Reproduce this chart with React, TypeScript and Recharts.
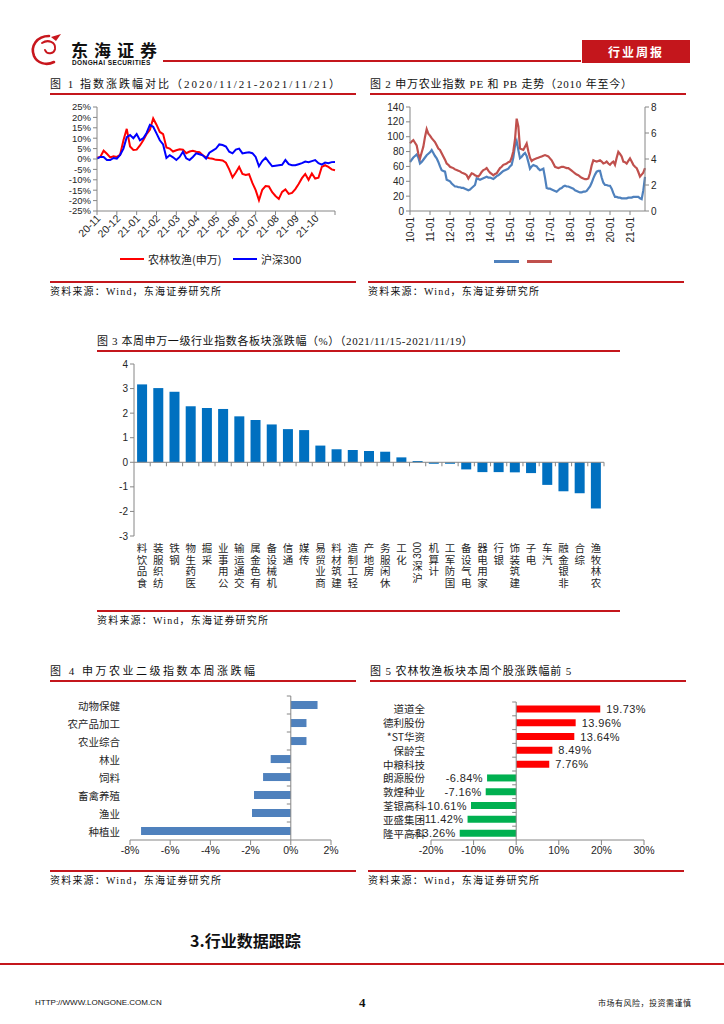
import React from 'react'
import { LineChart, Line, BarChart, Bar, XAxis, YAxis, ReferenceLine, Cell, LabelList } from 'recharts'

const CN = '"Noto Sans CJK SC", "Noto Sans", sans-serif'
const SERIF_CN = '"Liberation Serif", "Noto Sans CJK SC", serif'
const SANS = '"Liberation Sans", "Noto Sans CJK SC", sans-serif'
const RULE = '#c4161c'
const AXIS = '#868686'
const TEXT = '#262626'

// 图1 指数涨跌幅对比, one point every 1/6 month from 2020-11
const fig1Months = ['20-11', '20-12', '21-01', '21-02', '21-03', '21-04', '21-05', '21-06', '21-07', '21-08', '21-09', '21-10']
const fig1Agri = [
  0.6, 1.0, 4.0, 2.5, 0.8, 1.3, 1.0, 2.0, 9.0, 14.5,
  6.0, 4.3, 4.5, 6.5, 9.0, 12.0, 14.0, 19.5, 16.5, 13.0,
  12.0, 5.5, 5.0, 3.6, 4.2, 4.7, 4.5, 2.8, 3.6, 4.0,
  3.5, 3.3, 1.8, 0.8, 0.4, 0.1, -0.4, -0.5, -0.7, -1.8,
  -5.0, -8.8, -6.5, -3.8, -7.2, -7.7, -7.3, -11.5, -15.0, -19.8,
  -14.8, -13.0, -13.2, -16.0, -17.8, -19.2, -15.8, -14.6, -16.8, -16.3,
  -14.5, -12.0, -9.2, -7.2, -10.0, -7.0, -9.4, -9.0, -3.8, -3.0,
  -3.8, -5.0, -5.4,
]
const fig1Hs300 = [
  0.2, 1.0, 1.0, -0.5, -0.5, 0.5, 0.2, 2.0, 5.0, 10.5,
  11.5, 10.0, 12.0, 9.0, 10.0, 12.5, 16.4, 15.5, 12.3, 9.0,
  7.0, 0.5, 1.8, 0.8, -0.5, 1.0, 3.5, 0.3, -0.5, 1.0,
  2.7, 2.3, 1.8, 0.2, 3.0, 4.0, 5.0, 7.0, 6.7, 6.0,
  3.5, 2.7, 4.5, 5.0, 2.7, 3.0, 3.2, 2.8, 1.0, -3.5,
  -1.0, 0.6, -1.5, -3.5, -3.2, -3.0, -2.8, -0.5, -2.5, -3.0,
  -3.0, -2.5, -2.0, -1.2, -1.5, -1.0, -0.5, -2.0, -2.7, -1.7,
  -2.0, -1.5, -1.4,
]
const fig1YTicks = [-25, -20, -15, -10, -5, 0, 5, 10, 15, 20, 25]

// 图2 申万农业指数 PE / PB, monthly from 2010-01
const fig2Years = ['10-01', '11-01', '12-01', '13-01', '14-01', '15-01', '16-01', '17-01', '18-01', '19-01', '20-01', '21-01']
const fig2Pe = [
  66, 69, 72, 74, 76, 72, 64, 66, 69, 72, 75, 77,
  79, 82, 78, 74, 71, 66, 60, 55, 54, 53, 42, 41,
  40, 37, 35, 33, 33, 32, 32, 31, 31, 30, 29, 28,
  29, 31, 33, 35, 44, 43, 42, 43, 44, 45, 46, 45,
  45, 44, 43, 45, 47, 48, 50, 52, 54, 55, 56, 57,
  60, 62, 72, 88, 94, 82, 71, 73, 76, 78, 74, 66,
  57, 60, 62, 61, 60, 57, 55, 56, 57, 45, 31, 30,
  30, 29, 28, 27, 26, 28, 30, 31, 33, 34, 33, 33,
  32, 31, 30, 28, 27, 26, 25, 25, 26, 26, 27, 30,
  33, 38, 44, 49, 53, 54, 54, 45, 38, 35, 35, 34,
  34, 30, 24, 19, 19, 18, 18, 17, 17, 17, 17, 18,
  18, 18, 19, 19, 19, 19, 17, 16, 28, 46,
]
const fig2Pb = [
  5.2, 5.35, 5.45, 5.25, 5.05, 4.4, 4.05, 4.5, 4.95, 5.7, 6.3, 5.95,
  5.8, 5.6, 5.45, 5.3, 5.05, 4.8, 4.7, 4.45, 4.2, 3.95, 3.65, 3.55,
  3.4, 3.35, 3.3, 3.2, 3.15, 3.1, 3.05, 2.95, 2.9, 2.85, 2.75, 2.5,
  2.7, 2.9, 2.85, 2.75, 2.7, 2.65, 2.8, 3.0, 3.15, 3.2, 3.3, 3.1,
  2.95, 2.85, 2.75, 2.85, 2.9, 3.1, 3.3, 3.4, 3.55, 3.6, 3.65, 3.75,
  3.8, 4.1, 4.6, 5.5, 7.1, 6.5, 4.8, 4.75, 4.7, 4.95, 5.2, 4.6,
  4.1, 3.85, 3.95, 4.0, 4.05, 4.1, 4.15, 4.2, 4.25, 4.3, 4.25, 4.2,
  4.05, 3.9, 3.65, 3.4, 3.35, 3.3, 3.35, 3.4, 3.4, 3.35, 3.3, 3.3,
  3.2, 3.1, 3.0, 2.9, 2.8, 2.75, 2.65, 2.55, 2.5, 2.45, 2.45, 2.5,
  2.9, 3.5, 3.9, 3.85, 3.8, 3.85, 3.9, 3.8, 3.65, 3.7, 3.8, 3.65,
  3.55, 3.7, 3.8, 3.55, 4.1, 4.55, 4.4, 4.2, 3.8, 3.75, 3.65, 3.85,
  4.05, 3.8, 3.55, 3.4, 3.3, 3.0, 2.65, 2.8, 2.95, 3.3,
]
const fig2PeTicks = [0, 20, 40, 60, 80, 100, 120, 140]
const fig2PbTicks = [0, 2, 4, 6, 8]

// 图3 申万一级行业涨跌幅 (%)
const fig3Names = [
  '食品饮料', '纺织服装', '钢铁', '医药生物', '采掘', '公用事业', '交通运输', '有色金属', '机械设备', '通信',
  '传媒', '商业贸易', '建筑材料', '轻工制造', '房地产', '休闲服务', '化工', '沪深300', '计算机', '国防军工',
  '电气设备', '家用电器', '银行', '建筑装饰', '电子', '汽车', '非银金融', '综合', '农林牧渔',
]
const fig3Values = [
  3.17, 3.02, 2.87, 2.28, 2.21, 2.17, 1.87, 1.72, 1.54, 1.35,
  1.31, 0.68, 0.53, 0.5, 0.46, 0.43, 0.2, 0.05, -0.06, -0.06,
  -0.29, -0.4, -0.4, -0.41, -0.44, -0.92, -1.18, -1.26, -1.88,
]
const fig3Ticks = [-3, -2, -1, 0, 1, 2, 3, 4]

// 图4 申万农业二级指数本周涨跌幅 (%)
const fig4Names = ['动物保健', '农产品加工', '农业综合', '林业', '饲料', '畜禽养殖', '渔业', '种植业']
const fig4Values = [1.33, 0.78, 0.78, -1.0, -1.38, -1.83, -1.93, -7.45]
const fig4Ticks = [-8, -6, -4, -2, 0, 2]

// 图5 农林牧渔个股涨跌幅前5 (%)
const fig5Names = ['道道全', '德利股份', '*ST华资', '保龄宝', '中粮科技', '朗源股份', '敦煌种业', '荃银高科', '亚盛集团', '隆平高科']
const fig5Values = [19.73, 13.96, 13.64, 8.49, 7.76, -6.84, -7.16, -10.61, -11.42, -13.26]
const fig5Ticks = [-20, -10, 0, 10, 20, 30]

const fig1Data = fig1Agri.map((v, i) => ({ t: i / 6, agri: v, hs300: fig1Hs300[i] }))
const fig2Data = fig2Pe.map((v, i) => ({ m: i, pe: v, pb: fig2Pb[i] }))
const fig3Data = fig3Names.map((name, i) => ({ name, value: fig3Values[i] }))
const fig4Data = fig4Names.map((name, i) => ({ name, value: fig4Values[i] }))
const fig5Data = fig5Names.map((name, i) => ({ name, value: fig5Values[i] }))

const pct = (v: number) => `${v}%`
const axisTick = { fontSize: 9.5, fill: TEXT, fontFamily: SANS }

function Fig1Tick({ x, y, payload }: any) {
  const label = fig1Months[Math.round(payload.value)]
  if (!label) return null
  return (
    <text x={x + 2} y={y} transform={`rotate(-45 ${x + 2} ${y})`} textAnchor="end" dy="0.3em" fontSize={10.5} fill={TEXT} fontFamily={SANS}>
      {label}
    </text>
  )
}

function Fig2Tick({ x, y, payload }: any) {
  const label = fig2Years[Math.round(payload.value / 12)]
  return (
    <text x={x} y={y} transform={`rotate(-90 ${x} ${y})`} textAnchor="end" dy="0.35em" fontSize={10} fill={TEXT} fontFamily={SANS}>
      {label}
    </text>
  )
}

// 图3 layout numbers, used to put the between-category ticks on the zero line
const F3 = { w: 530, h: 250, top: 9, bottom: 5, right: 16, yAxisW: 44, xAxisH: 64 }
const f3PlotH = F3.h - F3.top - F3.bottom - F3.xAxisH
const f3ZeroY = F3.top + (f3PlotH * 4) / 7
const f3Band = (F3.w - F3.right - F3.yAxisW) / fig3Names.length

function Fig3Tick({ x, y, payload }: any) {
  const tokens: string[] = (String(payload.value).match(/[0-9]+|./g) || []).reverse()
  let cursor = y + 6
  const parts: React.ReactNode[] = []
  tokens.forEach((tk, i) => {
    if (/^[0-9]+$/.test(tk)) {
      parts.push(
        <text key={i} x={x} y={cursor} transform={`rotate(-90 ${x} ${cursor})`} textAnchor="end" dy="0.35em" fontSize={10} fill={TEXT} fontFamily={SANS}>
          {tk}
        </text>,
      )
      cursor += tk.length * 5.6 + 1.5
    } else {
      parts.push(
        <text key={i} x={x} y={cursor + 5.5} textAnchor="middle" dominantBaseline="central" fontSize={10.5} fill={TEXT} fontFamily={CN}>
          {tk}
        </text>,
      )
      cursor += 11.7
    }
  })
  return (
    <g>
      <line x1={x + f3Band / 2} x2={x + f3Band / 2} y1={f3ZeroY} y2={f3ZeroY + 4} stroke={AXIS} />
      {parts}
    </g>
  )
}

const F4 = { w: 320, h: 175, top: 6, right: 29, yAxisW: 90, xAxisH: 25 }
const f4PlotW = F4.w - F4.right - F4.yAxisW
const f4ZeroX = F4.yAxisW + f4PlotW * 0.8
const f4Band = (F4.h - F4.top - F4.xAxisH) / fig4Names.length

function Fig4Tick({ x, y, payload }: any) {
  return (
    <g>
      <line x1={f4ZeroX - 4} x2={f4ZeroX} y1={y - f4Band / 2} y2={y - f4Band / 2} stroke={AXIS} />
      <text x={x - 10} y={y} textAnchor="end" dominantBaseline="central" fontSize={10.5} fill={TEXT} fontFamily={CN}>
        {payload.value}
      </text>
    </g>
  )
}

const F5 = { w: 330, h: 175, top: 12, right: 46, yAxisW: 71, xAxisH: 25 }
const f5PlotW = F5.w - F5.right - F5.yAxisW
const f5ZeroX = F5.yAxisW + f5PlotW * 0.4
const f5Band = (F5.h - F5.top - F5.xAxisH) / fig5Names.length

function Fig5Tick({ x, y, payload }: any) {
  return (
    <g>
      <line x1={f5ZeroX - 4} x2={f5ZeroX} y1={y - f5Band / 2} y2={y - f5Band / 2} stroke={AXIS} />
      <text x={x - 6} y={y} textAnchor="end" dominantBaseline="central" fontSize={10.5} fill={TEXT} fontFamily={CN}>
        {payload.value}
      </text>
    </g>
  )
}

function Fig5Label(props: any) {
  const x = Number(props.x)
  const w = Number(props.width)
  const y = Number(props.y)
  const h = Number(props.height)
  const v = Number(props.value)
  const left = Math.min(x, x + w)
  const right = Math.max(x, x + w)
  const pos = v >= 0
  return (
    <text x={pos ? right + 6 : left - 4} y={y + h / 2} dominantBaseline="central" textAnchor={pos ? 'start' : 'end'} fontSize={11} fill={TEXT} fontFamily={SANS} letterSpacing={0.4}>
      {v.toFixed(2)}%
    </text>
  )
}

function Fig1() {
  return (
    <LineChart width={310} height={160} data={fig1Data} margin={{ top: 12, right: 15, left: 0, bottom: 0 }}>
      <XAxis type="number" dataKey="t" domain={[0, 12]} ticks={[0, 1, 2, 3, 4, 5, 6, 7, 8, 9, 10, 11, 12]} interval={0} height={44} stroke={AXIS} tickSize={4} tick={(p: any) => <Fig1Tick {...p} />} />
      <YAxis domain={[-25, 25]} ticks={fig1YTicks} tickFormatter={pct} width={57} stroke={AXIS} tickSize={4} interval={0} tick={axisTick} />
      <Line dataKey="agri" stroke="#ff0000" strokeWidth={2} dot={false} isAnimationActive={false} />
      <Line dataKey="hs300" stroke="#0000ff" strokeWidth={2} dot={false} isAnimationActive={false} />
    </LineChart>
  )
}

function Fig2() {
  return (
    <LineChart width={330} height={151} data={fig2Data} margin={{ top: 12, right: 15, left: 0, bottom: 0 }}>
      <XAxis type="number" dataKey="m" domain={[0, 141]} ticks={[0, 12, 24, 36, 48, 60, 72, 84, 96, 108, 120, 132]} interval={0} height={35} stroke={AXIS} tickSize={4} tick={(p: any) => <Fig2Tick {...p} />} />
      <YAxis yAxisId="pe" domain={[0, 140]} ticks={fig2PeTicks} interval={0} width={50} stroke={AXIS} tickSize={4} tick={{ ...axisTick, fontSize: 10 }} />
      <YAxis yAxisId="pb" orientation="right" domain={[0, 8]} ticks={fig2PbTicks} interval={0} width={30} stroke={AXIS} tickSize={4} tick={{ ...axisTick, fontSize: 10 }} />
      <Line yAxisId="pe" dataKey="pe" stroke="#4f81bd" strokeWidth={2.2} dot={false} isAnimationActive={false} />
      <Line yAxisId="pb" dataKey="pb" stroke="#c0504d" strokeWidth={2.2} dot={false} isAnimationActive={false} />
    </LineChart>
  )
}

function Fig3() {
  return (
    <BarChart width={F3.w} height={F3.h} data={fig3Data} margin={{ top: F3.top, right: F3.right, left: 0, bottom: F3.bottom }} barCategoryGap="19%">
      <XAxis dataKey="name" interval={0} height={F3.xAxisH} axisLine={false} tickLine={false} tickSize={0} tickMargin={0} tick={(p: any) => <Fig3Tick {...p} />} />
      <YAxis domain={[-3, 4]} ticks={fig3Ticks} interval={0} width={F3.yAxisW} stroke={AXIS} tickSize={4} tick={{ ...axisTick, fontSize: 10 }} />
      <ReferenceLine y={0} stroke={AXIS} />
      <Bar dataKey="value" fill="#0070c0" isAnimationActive={false} />
    </BarChart>
  )
}

function Fig4() {
  return (
    <BarChart layout="vertical" width={F4.w} height={F4.h} data={fig4Data} margin={{ top: F4.top, right: F4.right, left: 0, bottom: 0 }} barCategoryGap="28%">
      <XAxis type="number" domain={[-8, 2]} ticks={fig4Ticks} interval={0} tickFormatter={pct} height={F4.xAxisH} stroke={AXIS} tickSize={5} tick={{ ...axisTick, fontSize: 10.5 }} />
      <YAxis type="category" dataKey="name" width={F4.yAxisW} interval={0} axisLine={false} tickLine={false} tickSize={0} tickMargin={0} tick={(p: any) => <Fig4Tick {...p} />} />
      <ReferenceLine x={0} stroke={AXIS} />
      <Bar dataKey="value" fill="#4f81bd" isAnimationActive={false} />
    </BarChart>
  )
}

function Fig5() {
  return (
    <BarChart layout="vertical" width={F5.w} height={F5.h} data={fig5Data} margin={{ top: F5.top, right: F5.right, left: 0, bottom: 0 }} barCategoryGap="25%">
      <XAxis type="number" domain={[-20, 30]} ticks={fig5Ticks} interval={0} tickFormatter={pct} height={F5.xAxisH} stroke={AXIS} tickSize={5} tick={{ ...axisTick, fontSize: 10.5 }} />
      <YAxis type="category" dataKey="name" width={F5.yAxisW} interval={0} axisLine={false} tickLine={false} tickSize={0} tickMargin={0} tick={(p: any) => <Fig5Tick {...p} />} />
      <ReferenceLine x={0} stroke={AXIS} />
      <Bar dataKey="value" isAnimationActive={false}>
        {fig5Values.map((v, i) => (
          <Cell key={i} fill={v >= 0 ? '#ff0000' : '#00b050'} />
        ))}
        <LabelList dataKey="value" content={(p: any) => <Fig5Label {...p} />} />
      </Bar>
    </BarChart>
  )
}

const abs = (left: number, top: number, extra: React.CSSProperties = {}): React.CSSProperties => ({ position: 'absolute', left, top, ...extra })

function Title({ left, top, width, text, spacing }: { left: number; top: number; width: number; text: string; spacing: number }) {
  return (
    <>
      <div style={abs(left, top, { fontSize: 11, lineHeight: '14px', fontFamily: SERIF_CN, color: '#111', letterSpacing: spacing, whiteSpace: 'nowrap' })}>{text}</div>
      <div style={abs(left, top + 16, { width, height: 2, background: RULE })} />
    </>
  )
}

function Source({ left, top, width }: { left: number; top: number; width: number }) {
  return (
    <>
      <div style={abs(left, top, { width, height: 2, background: RULE })} />
      <div style={abs(left, top + 4, { fontSize: 10, lineHeight: '13px', fontFamily: SERIF_CN, color: '#111', letterSpacing: 1.2, whiteSpace: 'nowrap' })}>资料来源：Wind，东海证券研究所</div>
    </>
  )
}

function LegendLine({ left, top, color, label }: { left: number; top: number; color: string; label?: string }) {
  return (
    <div style={abs(left, top, { display: 'flex', alignItems: 'center', fontSize: 11, lineHeight: '14px', fontFamily: CN, color: TEXT, whiteSpace: 'nowrap' })}>
      <span style={{ display: 'inline-block', width: 24, height: 2, background: color, marginRight: label ? 4 : 0 }} />
      {label}
    </div>
  )
}

export default function App() {
  return (
    <div style={{ position: 'absolute', left: 0, top: 0, width: 724, height: 1024, background: '#fff', fontFamily: CN, overflow: 'hidden' }}>
      {/* header */}
      <svg style={abs(28, 33)} width={40} height={34} viewBox="0 0 40 34">
        <path d="M21 3 C9 3, 2 13, 6 23 C9 30, 18 33, 26 29" fill="none" stroke="#c8161d" strokeWidth={2.6} strokeLinecap="round" />
        <path d="M14 10 C20 6, 28 9, 27 16 C26 21, 19 22, 17 17" fill="none" stroke="#c8161d" strokeWidth={2} strokeLinecap="round" />
        <path d="M23 4 L33 1 L28 8 Z" fill="#c8161d" />
      </svg>
      <div style={abs(71, 41, { fontSize: 17, lineHeight: '17px', fontWeight: 700, letterSpacing: 6, color: '#111', whiteSpace: 'nowrap' })}>东海证券</div>
      <div style={abs(72, 59, { fontSize: 6.5, lineHeight: '7px', fontWeight: 700, fontFamily: SANS, letterSpacing: 0.4, color: '#111', whiteSpace: 'nowrap' })}>DONGHAI SECURITIES</div>
      <div style={abs(163, 60, { width: 418, height: 1.5, background: RULE })} />
      <div style={abs(582, 40, { width: 108, height: 23, background: '#c4161c', color: '#fff', fontSize: 12, lineHeight: '23px', fontWeight: 700, letterSpacing: 2, textAlign: 'center' })}>行业周报</div>

      {/* 图1 */}
      <Title left={50} top={77} width={306} text="图 1 指数涨跌幅对比（2020/11/21-2021/11/21）" spacing={2} />
      <div style={abs(40, 95)}>
        <Fig1 />
      </div>
      <LegendLine left={120} top={252} color="#ff0000" label="农林牧渔(申万)" />
      <LegendLine left={233} top={252} color="#0000ff" label="沪深300" />
      <Source left={50} top={281} width={306} />

      {/* 图2 */}
      <Title left={370} top={77} width={316} text="图 2 申万农业指数 PE 和 PB 走势（2010 年至今）" spacing={0.8} />
      <div style={abs(360, 95)}>
        <Fig2 />
      </div>
      <div style={abs(494, 260, { width: 25, height: 2.5, background: '#4f81bd' })} />
      <div style={abs(527, 260, { width: 25, height: 2.5, background: '#c0504d' })} />
      <Source left={368} top={281} width={316} />

      {/* 图3 */}
      <Title left={97} top={334} width={523} text="图 3 本周申万一级行业指数各板块涨跌幅（%）（2021/11/15-2021/11/19）" spacing={0.6} />
      <div style={abs(90, 355)}>
        <Fig3 />
      </div>
      <Source left={97} top={610} width={523} />

      {/* 图4 */}
      <Title left={50} top={664} width={306} text="图 4 申万农业二级指数本周涨跌幅" spacing={2.5} />
      <div style={abs(40, 690)}>
        <Fig4 />
      </div>
      <Source left={50} top={870} width={306} />

      {/* 图5 */}
      <Title left={370} top={664} width={316} text="图 5 农林牧渔板块本周个股涨跌幅前 5" spacing={0.9} />
      <div style={abs(360, 690)}>
        <Fig5 />
      </div>
      <Source left={368} top={870} width={316} />

      {/* section + footer */}
      <div style={abs(190, 930, { fontSize: 16, lineHeight: '20px', fontWeight: 700, color: '#111', whiteSpace: 'nowrap' })}>3.行业数据跟踪</div>
      <div style={abs(0, 963, { width: 724, height: 1.5, background: RULE })} />
      <div style={abs(35, 998, { fontSize: 8, lineHeight: '10px', fontFamily: SANS, color: '#111', whiteSpace: 'nowrap' })}>HTTP://WWW.LONGONE.COM.CN</div>
      <div style={abs(359, 995, { fontSize: 13, lineHeight: '15px', fontWeight: 700, fontFamily: SERIF_CN, color: '#111' })}>4</div>
      <div style={abs(598, 998, { fontSize: 8, lineHeight: '10px', color: '#111', letterSpacing: 0.5, whiteSpace: 'nowrap' })}>市场有风险，投资需谨慎</div>
    </div>
  )
}
